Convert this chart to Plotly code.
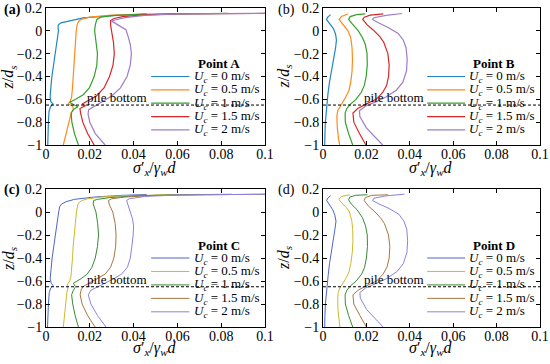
import plotly.graph_objects as go

# ---------------- data ----------------
speeds = ["0", "0.5", "1", "1.5", "2"]          # U_c in m/s
points = ["A", "B", "C", "D"]
panel_tags = ["(a)", "(b)", "(c)", "(d)"]
pile_bottom_z = -0.65

# Point A
a_u0_z = [0.148, 0.136, 0.113, 0.095, 0.084, 0.07, 0.05, 0.03, 0.0, -0.05, -0.1, -0.2, -0.3, -0.4, -0.5, -0.58, -0.62, -0.64, -0.66, -0.70, -0.8, -0.9, -1.0]
a_u0_x = [0.046, 0.032, 0.017, 0.012, 0.0094, 0.0068, 0.0056, 0.0055, 0.0057, 0.0053, 0.0048, 0.0040, 0.0033, 0.0027, 0.0022, 0.0019, 0.0022, 0.0032, 0.0022, 0.0014, 0.0011, 0.0009, 0.0008]
a_u1_z = [0.152, 0.148, 0.138, 0.12, 0.1, 0.08, 0.05, 0.0, -0.1, -0.2, -0.3, -0.4, -0.5, -0.58, -0.62, -0.64, -0.66, -0.69, -0.72, -0.8, -0.9, -1.0]
a_u1_x = [0.062, 0.045, 0.03, 0.02, 0.016, 0.0148, 0.0142, 0.0138, 0.0135, 0.0132, 0.0128, 0.0125, 0.0121, 0.0117, 0.0110, 0.0102, 0.0122, 0.0125, 0.0115, 0.0105, 0.0092, 0.0079]
a_u2_z = [0.153, 0.15, 0.143, 0.133, 0.12, 0.1, 0.08, 0.05, 0.0, -0.1, -0.2, -0.3, -0.4, -0.5, -0.56, -0.6, -0.625, -0.645, -0.665, -0.69, -0.72, -0.8, -0.9, -1.0]
a_u2_x = [0.083, 0.06, 0.04, 0.03, 0.025, 0.0232, 0.0228, 0.0225, 0.0222, 0.0228, 0.0235, 0.0232, 0.022, 0.0198, 0.017, 0.0135, 0.0108, 0.0125, 0.0145, 0.0125, 0.0115, 0.0118, 0.013, 0.0148]
a_u3_z = [0.153, 0.152, 0.148, 0.14, 0.125, 0.108, 0.09, 0.05, 0.0, -0.1, -0.2, -0.3, -0.4, -0.5, -0.57, -0.61, -0.64, -0.655, -0.68, -0.72, -0.8, -0.9, -1.0]
a_u3_x = [0.105, 0.08, 0.06, 0.045, 0.035, 0.031, 0.0295, 0.0295, 0.030, 0.0308, 0.0312, 0.0306, 0.029, 0.0265, 0.023, 0.0195, 0.0165, 0.018, 0.0155, 0.0158, 0.0168, 0.019, 0.022]
a_u4_z = [0.155, 0.153, 0.148, 0.135, 0.115, 0.095, 0.085, 0.05, 0.01, -0.05, -0.12, -0.2, -0.3, -0.4, -0.5, -0.57, -0.62, -0.645, -0.665, -0.69, -0.73, -0.8, -0.9, -1.0]
a_u4_x = [0.11, 0.08, 0.06, 0.045, 0.036, 0.0315, 0.030, 0.033, 0.0365, 0.0375, 0.0385, 0.039, 0.0385, 0.037, 0.034, 0.030, 0.0255, 0.0235, 0.0215, 0.0195, 0.0192, 0.020, 0.0225, 0.027]

# Point B
b_u0_z = [0.142, 0.12, 0.10, 0.06, 0.02, -0.03, -0.08, -0.15, -0.25, -0.35, -0.45, -0.55, -0.62, -0.66, -0.7, -0.8, -0.9, -1.0]
b_u0_x = [0.0035, 0.0022, 0.0016, 0.0030, 0.0048, 0.0058, 0.0062, 0.0058, 0.0048, 0.0039, 0.0030, 0.0023, 0.0019, 0.0016, 0.0014, 0.0011, 0.0009, 0.0008]
b_u1_z = [0.148, 0.125, 0.1, 0.06, 0.0, -0.06, -0.15, -0.25, -0.35, -0.45, -0.52, -0.58, -0.62, -0.66, -0.7, -0.75, -0.85, -0.95, -1.0]
b_u1_x = [0.0115, 0.0085, 0.0074, 0.0092, 0.0115, 0.0128, 0.0134, 0.0136, 0.0134, 0.0128, 0.012, 0.0105, 0.0092, 0.0078, 0.0068, 0.0064, 0.0066, 0.0072, 0.0077]
b_u2_z = [0.148, 0.142, 0.125, 0.1, 0.06, 0.0, -0.06, -0.12, -0.2, -0.3, -0.4, -0.48, -0.54, -0.6, -0.64, -0.68, -0.72, -0.8, -0.9, -1.0]
b_u2_x = [0.0195, 0.0155, 0.0125, 0.0118, 0.0135, 0.0163, 0.0182, 0.0195, 0.0203, 0.0204, 0.0199, 0.0190, 0.0176, 0.0152, 0.0128, 0.0110, 0.0102, 0.0103, 0.0118, 0.0137]
b_u3_z = [0.148, 0.138, 0.12, 0.1, 0.05, 0.01, -0.05, -0.1, -0.2, -0.3, -0.4, -0.48, -0.54, -0.6, -0.64, -0.68, -0.72, -0.8, -0.9, -1.0]
b_u3_x = [0.0278, 0.0218, 0.0190, 0.0183, 0.0205, 0.0230, 0.0262, 0.0280, 0.0299, 0.0305, 0.0302, 0.0293, 0.0275, 0.0245, 0.0200, 0.0160, 0.0138, 0.0142, 0.0168, 0.0198]
b_u4_z = [0.152, 0.135, 0.115, 0.1, 0.07, 0.03, -0.02, -0.08, -0.15, -0.25, -0.35, -0.45, -0.52, -0.58, -0.62, -0.66, -0.7, -0.75, -0.85, -0.95, -1.0]
b_u4_x = [0.0365, 0.029, 0.0235, 0.0228, 0.0255, 0.030, 0.0345, 0.037, 0.0383, 0.0388, 0.0385, 0.0368, 0.0338, 0.029, 0.0245, 0.0195, 0.0168, 0.0170, 0.0200, 0.0250, 0.0275]

# Point C
c_u0_z = [0.152, 0.145, 0.13, 0.11, 0.09, 0.07, 0.05, 0.03, 0.0, -0.05, -0.1, -0.2, -0.3, -0.4, -0.5, -0.58, -0.62, -0.64, -0.66, -0.70, -0.8, -0.9, -1.0]
c_u0_x = [0.046, 0.035, 0.022, 0.013, 0.0092, 0.0072, 0.0063, 0.006, 0.0058, 0.0054, 0.0050, 0.0042, 0.0034, 0.0028, 0.0023, 0.0019, 0.0024, 0.0033, 0.0022, 0.0015, 0.0011, 0.0008, 0.0007]
c_u1_z = [0.153, 0.15, 0.142, 0.13, 0.115, 0.1, 0.085, 0.07, 0.04, 0.0, -0.1, -0.2, -0.3, -0.4, -0.5, -0.56, -0.6, -0.63, -0.66, -0.7, -0.8, -0.9, -1.0]
c_u1_x = [0.07, 0.05, 0.035, 0.025, 0.019, 0.0165, 0.0152, 0.0146, 0.0142, 0.0139, 0.0134, 0.0128, 0.0124, 0.0121, 0.0118, 0.0114, 0.0108, 0.0098, 0.0100, 0.0095, 0.0090, 0.0085, 0.0079]
c_u2_z = [0.154, 0.15, 0.14, 0.125, 0.11, 0.1, 0.07, 0.03, 0.0, -0.1, -0.2, -0.3, -0.4, -0.48, -0.54, -0.58, -0.62, -0.65, -0.68, -0.72, -0.8, -0.9, -1.0]
c_u2_x = [0.085, 0.06, 0.04, 0.029, 0.0235, 0.0218, 0.0215, 0.0222, 0.0228, 0.0236, 0.024, 0.0235, 0.0225, 0.021, 0.0188, 0.016, 0.0125, 0.0135, 0.0125, 0.0117, 0.0122, 0.0133, 0.0148]
c_u3_z = [0.155, 0.152, 0.145, 0.13, 0.115, 0.1, 0.06, 0.0, -0.1, -0.2, -0.3, -0.4, -0.48, -0.54, -0.58, -0.62, -0.65, -0.68, -0.72, -0.8, -0.9, -1.0]
c_u3_x = [0.1, 0.075, 0.05, 0.036, 0.030, 0.0285, 0.029, 0.0305, 0.0316, 0.032, 0.0318, 0.031, 0.0295, 0.027, 0.0235, 0.0195, 0.0168, 0.016, 0.0156, 0.0165, 0.019, 0.0224]
c_u4_z = [0.156, 0.154, 0.148, 0.135, 0.115, 0.1, 0.06, 0.0, -0.06, -0.12, -0.2, -0.3, -0.4, -0.48, -0.54, -0.58, -0.62, -0.65, -0.68, -0.72, -0.8, -0.9, -1.0]
c_u4_x = [0.11, 0.085, 0.06, 0.045, 0.038, 0.0368, 0.0375, 0.0388, 0.0395, 0.040, 0.0398, 0.0392, 0.0385, 0.0372, 0.0345, 0.031, 0.0265, 0.0235, 0.0205, 0.0193, 0.0205, 0.0235, 0.0274]

# Point D
d_u0_z = [0.142, 0.12, 0.10, 0.06, 0.02, -0.03, -0.08, -0.15, -0.25, -0.35, -0.45, -0.55, -0.62, -0.66, -0.7, -0.8, -0.9, -1.0]
d_u0_x = [0.0035, 0.0022, 0.0017, 0.0032, 0.0045, 0.0055, 0.0060, 0.0055, 0.0046, 0.0038, 0.0030, 0.0024, 0.0020, 0.0016, 0.0014, 0.0011, 0.0009, 0.0008]
d_u1_z = [0.15, 0.135, 0.11, 0.08, 0.04, 0.0, -0.08, -0.15, -0.25, -0.35, -0.45, -0.52, -0.58, -0.62, -0.66, -0.7, -0.75, -0.85, -0.95, -1.0]
d_u1_x = [0.0125, 0.0085, 0.0074, 0.0085, 0.0108, 0.0122, 0.0133, 0.0137, 0.0138, 0.0135, 0.0128, 0.012, 0.0105, 0.0092, 0.0078, 0.0070, 0.0068, 0.0069, 0.0073, 0.0078]
d_u2_z = [0.15, 0.145, 0.13, 0.105, 0.07, 0.02, -0.05, -0.12, -0.2, -0.3, -0.4, -0.48, -0.54, -0.6, -0.64, -0.68, -0.72, -0.8, -0.9, -1.0]
d_u2_x = [0.0205, 0.015, 0.0123, 0.0118, 0.013, 0.0157, 0.0182, 0.0196, 0.0204, 0.0205, 0.0200, 0.0192, 0.0178, 0.0153, 0.0128, 0.011, 0.0102, 0.0103, 0.0118, 0.0137]
d_u3_z = [0.15, 0.145, 0.125, 0.1, 0.05, 0.01, -0.05, -0.1, -0.2, -0.3, -0.4, -0.48, -0.54, -0.6, -0.64, -0.68, -0.72, -0.8, -0.9, -1.0]
d_u3_x = [0.0300, 0.0225, 0.0195, 0.0190, 0.0210, 0.0235, 0.0265, 0.0283, 0.0302, 0.0308, 0.0305, 0.0295, 0.0277, 0.0247, 0.0202, 0.0162, 0.0138, 0.0142, 0.0170, 0.0200]
d_u4_z = [0.155, 0.14, 0.12, 0.1, 0.07, 0.03, -0.02, -0.08, -0.15, -0.25, -0.35, -0.45, -0.52, -0.58, -0.62, -0.66, -0.7, -0.75, -0.85, -0.95, -1.0]
d_u4_x = [0.0375, 0.029, 0.0235, 0.0228, 0.0258, 0.0305, 0.035, 0.0373, 0.0386, 0.039, 0.0387, 0.037, 0.034, 0.0292, 0.0247, 0.0197, 0.017, 0.0172, 0.0202, 0.0252, 0.0277]

colors_ab = ["#2386c2", "#ff8a1e", "#33a02c", "#d62728", "#a07cc8"]
colors_cd = ["#4a66c8", "#cdb92c", "#3a8a34", "#a8763e", "#8a84e0"]

panel_curves = [
    [(a_u0_x, a_u0_z), (a_u1_x, a_u1_z), (a_u2_x, a_u2_z), (a_u3_x, a_u3_z), (a_u4_x, a_u4_z)],
    [(b_u0_x, b_u0_z), (b_u1_x, b_u1_z), (b_u2_x, b_u2_z), (b_u3_x, b_u3_z), (b_u4_x, b_u4_z)],
    [(c_u0_x, c_u0_z), (c_u1_x, c_u1_z), (c_u2_x, c_u2_z), (c_u3_x, c_u3_z), (c_u4_x, c_u4_z)],
    [(d_u0_x, d_u0_z), (d_u1_x, d_u1_z), (d_u2_x, d_u2_z), (d_u3_x, d_u3_z), (d_u4_x, d_u4_z)],
]

# ---------------- figure ----------------
FONT = "Liberation Serif, Times New Roman, serif"
FS = 14
LFS = 13
fig = go.Figure()

xdoms = [[0, 0.4433], [0.5607, 1.0], [0, 0.4433], [0.5607, 1.0]]
ydoms = [[0.5705, 1.0], [0.5705, 1.0], [0, 0.4326], [0, 0.4326]]

legend_z = [-0.40, -0.517, -0.634, -0.751, -0.868]
legend_title_z = -0.29
shapes = []
annotations = []

for p in range(4):
    sfx = "" if p == 0 else str(p + 1)
    xr, yr = "x" + sfx, "y" + sfx
    cols = colors_ab if p < 2 else colors_cd
    lw = 1.2 if p < 2 else 1.0
    for i, (xs, zs) in enumerate(panel_curves[p]):
        fig.add_trace(go.Scatter(x=xs, y=zs, mode="lines", xaxis=xr, yaxis=yr,
                                 line=dict(color=cols[i], width=lw), showlegend=False,
                                 hoverinfo="skip"))
    # pile bottom dashed line
    fig.add_trace(go.Scatter(x=[0, 0.1], y=[pile_bottom_z, pile_bottom_z], mode="lines",
                             xaxis=xr, yaxis=yr, showlegend=False, hoverinfo="skip",
                             line=dict(color="black", width=1, dash="3px,2px")))
    annotations.append(dict(x=0.0326, y=pile_bottom_z, xref=xr, yref=yr, text="pile bottom",
                            showarrow=False, yanchor="bottom", yshift=-2,
                            font=dict(family=FONT, size=LFS, color="black")))
    # legend (boxless, MATLAB style)
    annotations.append(dict(x=0.079, y=legend_title_z, xref=xr, yref=yr,
                            text="<b>Point " + points[p] + "</b>",
                            showarrow=False, xanchor="center", yanchor="middle",
                            font=dict(family=FONT, size=LFS, color="black")))
    for i, s in enumerate(speeds):
        shapes.append(dict(type="line", xref=xr, yref=yr, x0=0.048, x1=0.0655,
                           y0=legend_z[i], y1=legend_z[i], layer="below",
                           line=dict(color=cols[i], width=lw)))
        annotations.append(dict(x=0.0665, y=legend_z[i], xref=xr, yref=yr,
                                text="<i>U</i><sub><i>c</i></sub> = " + s + " m/s",
                                showarrow=False, xanchor="left", yanchor="middle",
                                font=dict(family=FONT, size=LFS, color="black")))

# panel tags
tag_pos = [(-0.089, 0.994), (0.4656, 0.994), (-0.089, 0.4295), (0.4656, 0.4295)]
for p in range(4):
    bold = p in (0, 2)
    annotations.append(dict(x=tag_pos[p][0], y=tag_pos[p][1], xref="paper", yref="paper",
                            text=("<b>%s</b>" % panel_tags[p]) if bold else panel_tags[p],
                            showarrow=False, xanchor="left", yanchor="middle",
                            font=dict(family=FONT, size=FS, color="black")))

# axis titles (placed as annotations so the plot areas keep their size)
xtitle = "<i>σ</i>′<sub><i>x</i></sub>/<i>γ</i><sub><i>w</i></sub><i>d</i>"
ytitle = "<i>z</i>/<i>d</i><sub><i>s</i></sub>"
xt_pos = [(sum(xdoms[p]) / 2, 0.497 if p < 2 else -0.067) for p in range(4)]
yt_pos = [(-0.075 if p % 2 == 0 else 0.4818, sum(ydoms[p]) / 2) for p in range(4)]
for p in range(4):
    annotations.append(dict(x=xt_pos[p][0], y=xt_pos[p][1], xref="paper", yref="paper",
                            text=xtitle, showarrow=False, xanchor="center", yanchor="middle",
                            font=dict(family=FONT, size=16, color="black")))
    annotations.append(dict(x=yt_pos[p][0], y=yt_pos[p][1], xref="paper", yref="paper",
                            text=ytitle, showarrow=False, xanchor="center", yanchor="middle",
                            textangle=-90,
                            font=dict(family=FONT, size=16, color="black")))

axis_common = dict(showline=True, linecolor="black", linewidth=1, mirror="ticks",
                   ticks="inside", ticklen=4, tickcolor="black", tickwidth=1,
                   showgrid=False, zeroline=False, automargin=False,
                   tickfont=dict(family=FONT, size=FS, color="black"))

layout = dict(width=550, height=364, margin=dict(l=46, r=10, t=8, b=37, autoexpand=False),
              paper_bgcolor="white", plot_bgcolor="white", hovermode=False,
              shapes=shapes, annotations=annotations, showlegend=False)

for p in range(4):
    sfx = "" if p == 0 else str(p + 1)
    layout["xaxis" + sfx] = dict(axis_common, domain=xdoms[p], anchor="y" + sfx,
                                 range=[0, 0.1], dtick=0.02, tick0=0, ticklabelstandoff=-4)
    layout["yaxis" + sfx] = dict(axis_common, domain=ydoms[p], anchor="x" + sfx,
                                 range=[-1, 0.2], dtick=0.2, tick0=0)

fig.update_layout(**layout)
fig.write_html("out.html", config={"displayModeBar": False},
               post_script="document.body.style.margin='0';document.body.style.padding='0';")
